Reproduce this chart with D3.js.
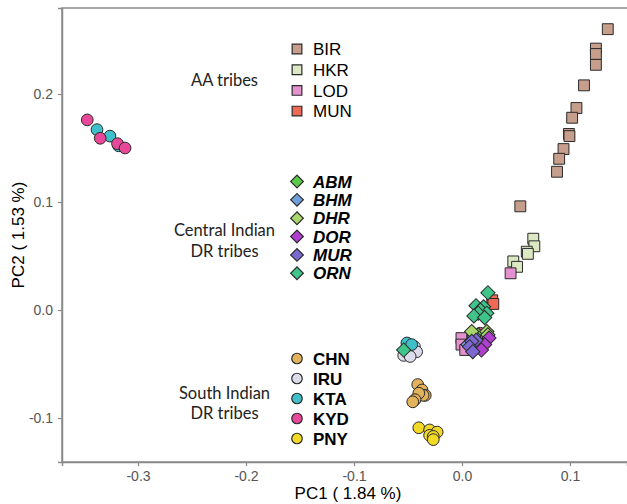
<!DOCTYPE html>
<html>
<head>
<meta charset="utf-8">
<script src="https://cdn.jsdelivr.net/npm/d3@7"></script>
<style>
  body { margin: 0; background: #fff; }
  svg { display: block; }
</style>
</head>
<body>
<svg id="chart" width="627" height="504"></svg>
<script>

// --> DATA (PC1, PC2)

// AA tribes (squares)
var BIR = [[0.135,0.260],[0.124,0.242],[0.124,0.237],[0.124,0.227],[0.113,0.208],[0.106,0.187],
           [0.102,0.178],[0.099,0.163],[0.0995,0.161],[0.094,0.149],[0.090,0.140],[0.088,0.128],[0.054,0.096]];
var HKR = [[0.066,0.066],[0.067,0.059],[0.060,0.054],[0.061,0.052],[0.0475,0.045],[0.051,0.040]];
var LOD = [[0.045,0.034],[-0.0005,-0.026],[-0.0005,-0.032],[0.003,-0.037]];
var MUN = [[0.028,0.009],[0.029,0.0056]];

// South Indian DR tribes (circles)
var CHN = [[-0.041,-0.069],[-0.037,-0.074],[-0.034,-0.079],[-0.036,-0.079],[-0.040,-0.077],[-0.0435,-0.083],[-0.0456,-0.085]];
var IRU = [[-0.044,-0.034],[-0.042,-0.0386],[-0.054,-0.042],[-0.048,-0.043]];
var KTA = [[-0.338,0.167],[-0.326,0.161],[-0.318,0.152],[-0.051,-0.0305],[-0.0466,-0.032]];
var KYD = [[-0.347,0.176],[-0.335,0.159],[-0.319,0.154],[-0.312,0.150],[0.017,-0.0215],[0.021,-0.028]];
var PNY = [[-0.040,-0.109],[-0.030,-0.111],[-0.023,-0.113],[-0.030,-0.116],[-0.0266,-0.117],[-0.0266,-0.120]];

// Central Indian DR tribes (diamonds)
var ABM = [[0.015,-0.023]];
var BHM = [[0.011,-0.024],[0.0055,-0.032]];
var DHR = [[0.009,-0.020],[0.023,-0.020],[0.024,-0.023]];
var DOR = [[0.025,-0.026],[0.021,-0.032],[0.018,-0.037]];
var MUR = [[0.013,-0.028],[0.009,-0.029],[0.007,-0.034],[0.010,-0.0386]];
var ORN = [[0.024,0.016],[0.013,0.004],[0.020,0.003],[0.017,0.000],[0.023,-0.003],[0.015,-0.003],
           [0.011,-0.0055],[0.021,-0.007],[-0.054,-0.037]];

var aaNames = ["BIR","HKR","LOD","MUN"];
var aaColors = ["#c79e8c","#dce8c4","#e492cf","#ee6a55"];
var cenNames = ["ABM","BHM","DHR","DOR","MUR","ORN"];
var cenColors = ["#5cc94a","#6f9fd8","#a9d66c","#b03fd0","#7b68d0","#3fc48a"];
var southNames = ["CHN","IRU","KTA","KYD","PNY"];
var southColors = ["#e3b25c","#dcdcea","#3fbfc9","#e8489a","#f2d925"];

var xTicks = [-0.3,-0.2,-0.1,0.0,0.1];
var yTicks = [-0.1,0.0,0.1,0.2];

var popData = {BIR:BIR,HKR:HKR,LOD:LOD,MUN:MUN,CHN:CHN,IRU:IRU,KTA:KTA,KYD:KYD,PNY:PNY,
               ABM:ABM,BHM:BHM,DHR:DHR,DOR:DOR,MUR:MUR,ORN:ORN};

// build one table of points, squares first, then circles, then diamonds
var points = [];
function add_group(names, colors, shape)
{
    names.forEach(function(n, i){
        popData[n].forEach(function(p){
            points.push({pop:n, x:p[0], y:p[1], color:colors[i], shape:shape});
        });
    });
}
add_group(aaNames, aaColors, "square");
add_group(southNames, southColors, "circle");
add_group(cenNames, cenColors, "diamond");

// --> SVG DRAWING AREA
var svg = d3.select("#chart");
var pLeft = 62, pTop = 8, pRight = 627, pBottom = 462;

var x = d3.scaleLinear().domain([-0.3704, 0.1528]).range([pLeft, pRight]);
var y = d3.scaleLinear().domain([-0.1407, 0.2796]).range([pBottom, pTop]);

var axisColor = "#8a8a8a";

// panel border (right edge falls off the picture)
svg.append("rect")
    .attr("x", pLeft).attr("y", pTop)
    .attr("width", 700).attr("height", pBottom - pTop)
    .style("fill", "none")
    .style("stroke", axisColor)
    .style("stroke-width", 1.5);

var xAxis = d3.axisBottom(x).tickValues(xTicks).tickSize(4).tickPadding(5)
    .tickFormat(function(d){ return d.toFixed(1); });
var yAxis = d3.axisLeft(y).tickValues(yTicks).tickSize(4).tickPadding(5)
    .tickFormat(function(d){ return d.toFixed(1); });

var gx = svg.append("g").attr("transform", "translate(0," + pBottom + ")").call(xAxis);
var gy = svg.append("g").attr("transform", "translate(" + pLeft + ",0)").call(yAxis);

[gx, gy].forEach(function(g){
    g.select(".domain").style("stroke", axisColor).style("stroke-width", 1.5);
    g.selectAll(".tick line").style("stroke", axisColor).style("stroke-width", 1.2);
    g.selectAll(".tick text")
        .style("font-family", "'Liberation Sans', Arial, sans-serif")
        .style("font-size", "14px")
        .style("fill", "#555");
});

// axis titles
svg.append("text")
    .attr("x", 348).attr("y", 499)
    .attr("text-anchor", "middle")
    .style("font-family", "'Liberation Sans', Arial, sans-serif")
    .style("font-size", "17px")
    .text("PC1 ( 1.84 %)");

svg.append("text")
    .attr("transform", "translate(24,235) rotate(-90)")
    .attr("text-anchor", "middle")
    .style("font-family", "'Liberation Sans', Arial, sans-serif")
    .style("font-size", "17px")
    .text("PC2 ( 1.53 %)");

// shapes
function shape_path(s, big)
{
    var k = big ? 1 : 0.8;
    if (s == "square") return d3.symbol().type(d3.symbolSquare).size(118 * k)();
    if (s == "circle") return d3.symbol().type(d3.symbolCircle).size(108 * k)();
    return d3.symbol().type(d3.symbolSquare).size(112 * k * 0.9)();
}

svg.append("g").selectAll("path")
    .data(points)
    .enter().append("path")
    .attr("d", function(d){ return shape_path(d.shape, true); })
    .attr("transform", function(d){
        return "translate(" + x(d.x) + "," + y(d.y) + ")" + (d.shape == "diamond" ? " rotate(45)" : "");
    })
    .style("fill", function(d){ return d.color; })
    .style("stroke", "#2a2a2a")
    .style("stroke-width", 1);

// --> LEGENDS
var groupFont = "Lato, 'Open Sans', sans-serif";
var legFont = "'Liberation Sans', Arial, sans-serif";

function draw_legend(names, colors, shape, y0, dy, weight, style)
{
    var g = svg.append("g");
    names.forEach(function(n, i){
        var yy = y0 + i * dy;
        g.append("path")
            .attr("d", shape_path(shape, false))
            .attr("transform", "translate(297," + yy + ")" + (shape == "diamond" ? " rotate(45)" : ""))
            .style("fill", colors[i])
            .style("stroke", "#2a2a2a")
            .style("stroke-width", 1.2);
        g.append("text")
            .attr("x", 313).attr("y", yy)
            .attr("dy", "0.36em")
            .style("font-family", legFont)
            .style("font-size", "17px")
            .style("font-weight", weight)
            .style("font-style", style)
            .text(n);
    });
}

draw_legend(aaNames, aaColors, "square", 49, 20.7, "normal", "normal");
draw_legend(cenNames, cenColors, "diamond", 181.5, 18.35, "bold", "italic");
draw_legend(southNames, southColors, "circle", 358.5, 20, "bold", "normal");

function group_label(lines, y0)
{
    lines.forEach(function(t, i){
        svg.append("text")
            .attr("x", 224.5).attr("y", y0 + i * 20.5)
            .attr("text-anchor", "middle")
            .style("font-family", groupFont)
            .style("font-size", "16.5px")
            .style("fill", "#222")
            .text(t);
    });
}

group_label(["AA tribes"], 86);
group_label(["Central Indian", "DR tribes"], 236);
group_label(["South Indian", "DR tribes"], 398.5);

</script>
</body>
</html>
